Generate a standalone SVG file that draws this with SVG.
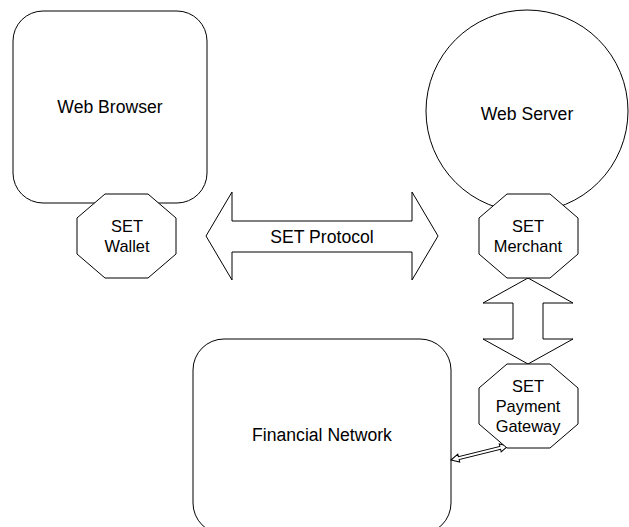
<svg xmlns="http://www.w3.org/2000/svg" width="629" height="527" viewBox="0 0 629 527">
<defs>
<style>
.shape{fill:#fff;stroke:#000;stroke-width:1}
.lbl{font-family:"Liberation Sans",Arial,sans-serif;font-size:17.6px;fill:#000;text-anchor:middle}
.sm{font-family:"Liberation Sans",Arial,sans-serif;font-size:16.4px;fill:#000;text-anchor:middle}
</style>
<polygon id="oct" points="28,0 71,0 99,24 99,60 71,84 28,84 0,60 0,24"/>
</defs>
<rect width="629" height="527" fill="#fff"/>
<g id="browser">
<rect class="shape" x="13" y="11" width="194" height="192" rx="30" ry="30"/>
<text class="lbl" x="110" y="113">Web Browser</text>
</g>
<g id="server">
<circle class="shape" cx="527" cy="111" r="101"/>
<text class="lbl" x="527" y="120">Web Server</text>
</g>
<g id="financial">
<rect class="shape" x="193" y="339" width="258" height="195" rx="31" ry="31"/>
<text class="lbl" x="322" y="441">Financial Network</text>
</g>
<g id="connectors">
<polygon class="shape" points="206,236 232,192 232,221 412,221 412,192 438,236 412,280 412,252 232,252 232,280"/>
<polygon class="shape" points="528,278 573,303 543,303 543,339 573,339 528,364 483,339 513,339 513,303 483,303"/>
<g transform="translate(451,460) rotate(-13.8)">
<polygon class="shape" points="0,0 8,-4 8,-1.5 50.7,-1.5 50.7,-4 58.7,0 50.7,4 50.7,1.5 8,1.5 8,4"/>
</g>
</g>
<g id="protocol-label">
<text class="lbl" x="322" y="243">SET Protocol</text>
</g>
<g id="wallet">
<use href="#oct" class="shape" x="77" y="194"/>
<text class="sm" x="127" y="232">SET</text>
<text class="sm" x="127" y="252">Wallet</text>
</g>
<g id="merchant">
<use href="#oct" class="shape" x="479" y="194"/>
<text class="sm" x="528" y="232">SET</text>
<text class="sm" x="528" y="252">Merchant</text>
</g>
<g id="gateway">
<use href="#oct" class="shape" x="479" y="364"/>
<text class="sm" x="528" y="392">SET</text>
<text class="sm" x="528" y="412">Payment</text>
<text class="sm" x="528" y="432">Gateway</text>
</g>
</svg>
